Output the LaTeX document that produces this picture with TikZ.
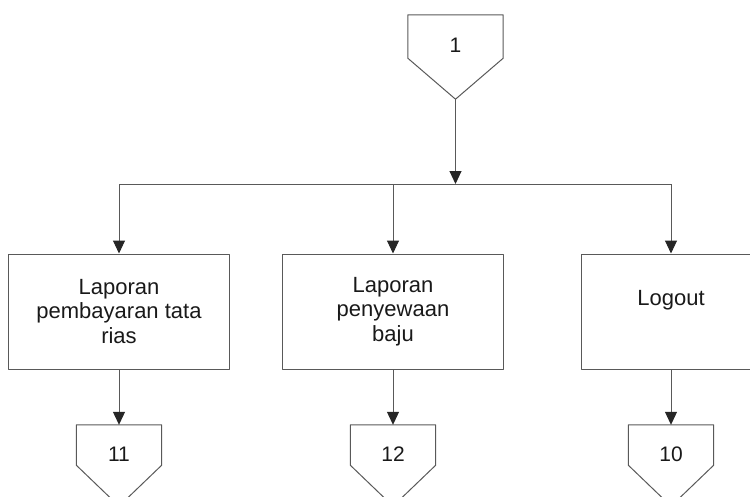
\documentclass[tikz,border=0pt]{standalone}
\usepackage{fontspec}
\setmainfont{Liberation Sans}
\usetikzlibrary{arrows.meta,calc}

\begin{document}
\begin{tikzpicture}[x=1pt, y=-1pt, >={Triangle[length=13pt,width=12pt,color=black!85]}, line join=round,
	ln/.style={draw=gray!70!black, line width=1pt},
	arr/.style={ln,->},
	box/.style={ln, minimum width=221pt, minimum height=115pt, inner sep=0pt, align=center, text=black!90, font=\fontsize{22}{24.5}\selectfont},
	offpg/.style={minimum width=85pt, minimum height=40pt, inner sep=0pt, text height=32pt, text depth=0pt, text=black!90, font=\fontsize{21}{24}\selectfont}]
	\def\tip{41}
	\clip (0,0) rectangle (750,496);
	
	% [Konektor atas]
	\node[offpg, minimum width=95pt, minimum height=43pt] (c1) at (455.5,36.5) {1};
	
	% [Kotak menu laporan]
	\node[box] (lap1) at (119,311.5) {Laporan\\pembayaran tata\\rias};
	\node[box] (lap2) at (393,311.5) {Laporan\\penyewaan\\baju};
	\node[box, minimum width=180pt, text depth=28pt] (logout) at (671,311.5) {Logout};
	
	% [Konektor bawah]
	\node[offpg] (c11) at (119,445) {11};
	\node[offpg] (c12) at (393,445) {12};
	\node[offpg] (c10) at (671,445) {10};
	\foreach \c in {c1,c11,c12,c10}
		\draw[ln] (\c.north west) -- (\c.north east) -- (\c.south east) -- ($(\c.south)+(0,\tip)$) -- (\c.south west) -- cycle;
	
	% [Garis cabang]
	\coordinate (c1tip) at ($(c1.south)+(0,\tip)$);
	\coordinate (busT) at (455.5,184);
	\coordinate (busL) at (119,184);
	\coordinate (busM) at (393,184);
	\coordinate (busR) at (671,184);
	\draw[ln] (busL) -- (busR);
	\draw[arr] (c1tip) -- (busT);
	\draw[arr] (busL) -- (lap1);
	\draw[arr] (busM) -- (lap2);
	\draw[arr] (busR) -- (logout);
	
	% [Ke konektor halaman]
	\draw[arr] (lap1) -- (c11);
	\draw[arr] (lap2) -- (c12);
	\draw[arr] (logout) -- (c10);
\end{tikzpicture}
\end{document}
